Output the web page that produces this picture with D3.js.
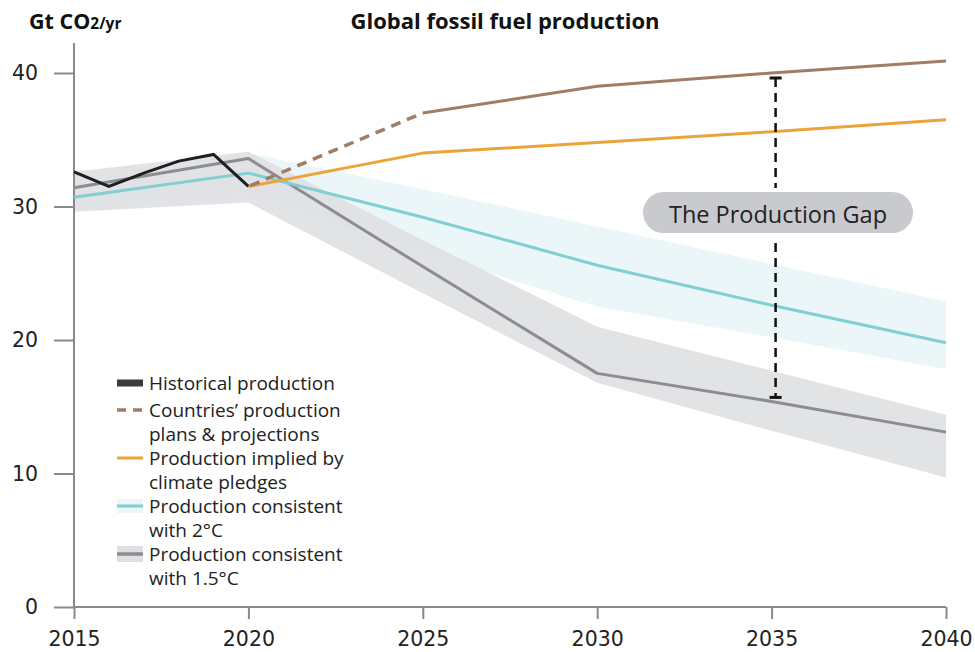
<!DOCTYPE html>
<html>
<head>
<meta charset="utf-8">
<script src="https://cdn.jsdelivr.net/npm/d3@7"></script>
<style>
  html, body { margin: 0; padding: 0; background: #fff; }
  svg { display: block; font-family: "Open Sans", "Noto Sans", sans-serif; }
</style>
</head>
<body>
<svg id="chart" width="975" height="652"></svg>
<script>
// Historical production, Gt CO2 per year
const historicalYears = [2015, 2016, 2017, 2018, 2019, 2020];
const historical = [32.6, 31.5, 32.5, 33.4, 33.9, 31.5];

// Projected pathways
const projYears = [2020, 2025, 2030, 2035, 2040];
const plans = [31.5, 37.0, 39.0, 40.0, 40.9];
const pledges = [31.5, 34.0, 34.8, 35.6, 36.5];

// Pathways consistent with temperature limits (median and range)
const limitYears = [2015, 2020, 2025, 2030, 2035, 2040];
const twoDeg = [30.7, 32.5, 29.2, 25.6, 22.6, 19.8];
const twoDegLow = [29.8, 30.8, 26.6, 22.5, 20.2, 17.8];
const twoDegHigh = [32.2, 34.0, 31.3, 28.5, 25.7, 22.9];
const onePointFive = [31.4, 33.6, 25.5, 17.5, 15.4, 13.1];
const onePointFiveLow = [29.6, 30.3, 23.5, 16.8, 13.2, 9.7];
const onePointFiveHigh = [32.6, 34.1, 27.5, 21.0, 17.7, 14.4];

const xTicks = [2015, 2020, 2025, 2030, 2035, 2040];
const yTicks = [0, 10, 20, 30, 40];
const gapYear = 2035;

const legendItems = [
  { key: "hist", lines: ["Historical production"] },
  { key: "plans", lines: ["Countries\u2019 production", "plans & projections"] },
  { key: "pledges", lines: ["Production implied by", "climate pledges"] },
  { key: "two", lines: ["Production consistent", "with 2\u00b0C"] },
  { key: "onefive", lines: ["Production consistent", "with 1.5\u00b0C"] }
];

const colors = {
  hist: "#1f1f1f",
  histLegend: "#3a3a3a",
  plans: "#a07d64",
  pledges: "#eba43a",
  two: "#7fcfd3",
  twoBand: "#ebf6f9",
  onefive: "#8c8d91",
  onefiveBand: "#dfe0e2",
  axis: "#8a8a8e",
  text: "#222"
};

const numFont = "'DejaVu Sans', sans-serif";

const svg = d3.select("#chart");
const x = d3.scaleLinear().domain([2015, 2040]).range([74, 946]);
const y = d3.scaleLinear().domain([0, 40]).range([607, 73]);

// Bands
const band = (lo, hi) => d3.area()
  .x((d, i) => x(limitYears[i]))
  .y0((d, i) => y(lo[i]))
  .y1((d, i) => y(hi[i]));

svg.append("path").datum(limitYears)
  .attr("d", band(twoDegLow, twoDegHigh))
  .attr("fill", colors.twoBand);
svg.append("path").datum(limitYears)
  .attr("d", band(onePointFiveLow, onePointFiveHigh))
  .attr("fill", colors.onefiveBand)
  .attr("fill-opacity", 0.9);

// Axes
const yAxis = d3.axisLeft(y).tickValues(yTicks).tickSize(20).tickPadding(16).tickFormat(d3.format("d"));
const gy = svg.append("g").attr("transform", `translate(${x(2015)},0)`).call(yAxis);
gy.select(".domain").remove();
gy.append("line").attr("x1", 0).attr("x2", 0).attr("y1", 43).attr("y2", y(0))
  .attr("stroke", colors.axis).attr("stroke-width", 2);
gy.selectAll(".tick line").attr("stroke", colors.axis).attr("stroke-width", 2);
gy.selectAll(".tick text").attr("fill", colors.text).attr("font-size", 20.5)
  .attr("font-family", numFont);

const xAxis = d3.axisBottom(x).tickValues(xTicks).tickSize(12).tickPadding(12).tickFormat(d3.format("d"));
const gx = svg.append("g").attr("transform", `translate(0,${y(0)})`).call(xAxis);
gx.select(".domain").attr("stroke", colors.axis).attr("stroke-width", 2)
  .attr("d", `M${x(2015)},0H${x(2040)}`);
gx.selectAll(".tick line").attr("stroke", colors.axis).attr("stroke-width", 2);
gx.selectAll(".tick text").attr("fill", colors.text).attr("font-size", 20.5)
  .attr("font-family", numFont);

// Lines
const lineOf = (years, vals) => d3.line().x((d, i) => x(years[i])).y((d, i) => y(vals[i]))(vals);

svg.append("path").attr("d", lineOf(limitYears, onePointFive))
  .attr("fill", "none").attr("stroke", colors.onefive).attr("stroke-width", 3)
  .attr("stroke-linejoin", "round");
svg.append("path").attr("d", lineOf(limitYears, twoDeg))
  .attr("fill", "none").attr("stroke", colors.two).attr("stroke-width", 3)
  .attr("stroke-linejoin", "round");

svg.append("path").attr("d", lineOf(projYears, pledges))
  .attr("fill", "none").attr("stroke", colors.pledges).attr("stroke-width", 3)
  .attr("stroke-linejoin", "round");

// Plans: dashed to 2025, solid after
svg.append("path").attr("d", lineOf(projYears.slice(0, 2), plans.slice(0, 2)))
  .attr("fill", "none").attr("stroke", colors.plans).attr("stroke-width", 3.5)
  .attr("stroke-dasharray", "10,7").attr("stroke-dashoffset", -36);
svg.append("path").attr("d", lineOf(projYears.slice(1), plans.slice(1)))
  .attr("fill", "none").attr("stroke", colors.plans).attr("stroke-width", 3)
  .attr("stroke-linejoin", "round");

svg.append("path").attr("d", lineOf(historicalYears, historical))
  .attr("fill", "none").attr("stroke", colors.hist).attr("stroke-width", 3)
  .attr("stroke-linejoin", "miter");

// Production gap marker
const gx0 = x(gapYear) + 4;
const gTop = y(plans[projYears.indexOf(gapYear)]) + 5;
const gBot = y(onePointFive[limitYears.indexOf(gapYear)]) - 4;
const gap = svg.append("g");
gap.append("line").attr("x1", gx0).attr("x2", gx0).attr("y1", gTop).attr("y2", gBot)
  .attr("stroke", "#111").attr("stroke-width", 2.5).attr("stroke-dasharray", "9,6");
[gTop, gBot].forEach(v => gap.append("line")
  .attr("x1", gx0 - 6).attr("x2", gx0 + 6).attr("y1", v).attr("y2", v)
  .attr("stroke", "#111").attr("stroke-width", 3));

const pill = { cx: 778, cy: 212.5, w: 270, h: 41 };
gap.append("rect")
  .attr("x", pill.cx - pill.w / 2).attr("y", pill.cy - pill.h / 2)
  .attr("width", pill.w).attr("height", pill.h)
  .attr("rx", pill.h / 2).attr("ry", pill.h / 2)
  .attr("fill", "#c9cacd").attr("stroke", "#fff").attr("stroke-width", 8)
  .attr("paint-order", "stroke");
gap.append("text").attr("x", pill.cx).attr("y", pill.cy + 1)
  .attr("text-anchor", "middle").attr("dominant-baseline", "central")
  .attr("font-size", 23.5).attr("fill", colors.text)
  .text("The Production Gap");

// Titles
svg.append("text").attr("x", 505).attr("y", 29).attr("text-anchor", "middle")
  .attr("font-size", 22).attr("font-weight", 700).attr("fill", "#111")
  .text("Global fossil fuel production");

const unit = svg.append("text").attr("x", 29).attr("y", 29)
  .attr("font-weight", 700).attr("fill", "#111");
unit.append("tspan").attr("font-size", 21.5).text("Gt CO");
unit.append("tspan").attr("font-size", 15.5).text("2/yr");

// Legend: swatch column on the left, wrapped labels on the right
const legend = svg.append("g");
const lx0 = 117, lx1 = 143, tx = 149, lineH = 24;
const legendRowY = [383, 410, 458, 506, 554];
legendItems.forEach((item, k) => {
  const g = legend.append("g");
  const cy = legendRowY[k];
  if (item.key === "hist") {
    g.append("rect").attr("x", lx0).attr("y", cy - 3.5).attr("width", lx1 - lx0).attr("height", 7)
      .attr("fill", colors.histLegend);
  } else if (item.key === "plans") {
    g.append("line").attr("x1", lx0).attr("x2", lx1).attr("y1", cy).attr("y2", cy)
      .attr("stroke", colors.plans).attr("stroke-width", 3.5).attr("stroke-dasharray", "9,7");
  } else if (item.key === "pledges") {
    g.append("line").attr("x1", lx0).attr("x2", lx1).attr("y1", cy).attr("y2", cy)
      .attr("stroke", colors.pledges).attr("stroke-width", 3);
  } else if (item.key === "two") {
    g.append("rect").attr("x", lx0).attr("y", cy - 7).attr("width", lx1 - lx0).attr("height", 14)
      .attr("fill", colors.twoBand);
    g.append("line").attr("x1", lx0).attr("x2", lx1).attr("y1", cy).attr("y2", cy)
      .attr("stroke", colors.two).attr("stroke-width", 3);
  } else {
    g.append("rect").attr("x", lx0).attr("y", cy - 8).attr("width", lx1 - lx0).attr("height", 16)
      .attr("fill", colors.onefiveBand);
    g.append("line").attr("x1", lx0).attr("x2", lx1).attr("y1", cy).attr("y2", cy)
      .attr("stroke", colors.onefive).attr("stroke-width", 3.5);
  }
  item.lines.forEach((t, j) => {
    g.append("text").attr("x", tx).attr("y", cy + j * lineH)
      .attr("dominant-baseline", "central").attr("font-size", 19).attr("fill", colors.text)
      .text(t);
  });
});
</script>
</body>
</html>
